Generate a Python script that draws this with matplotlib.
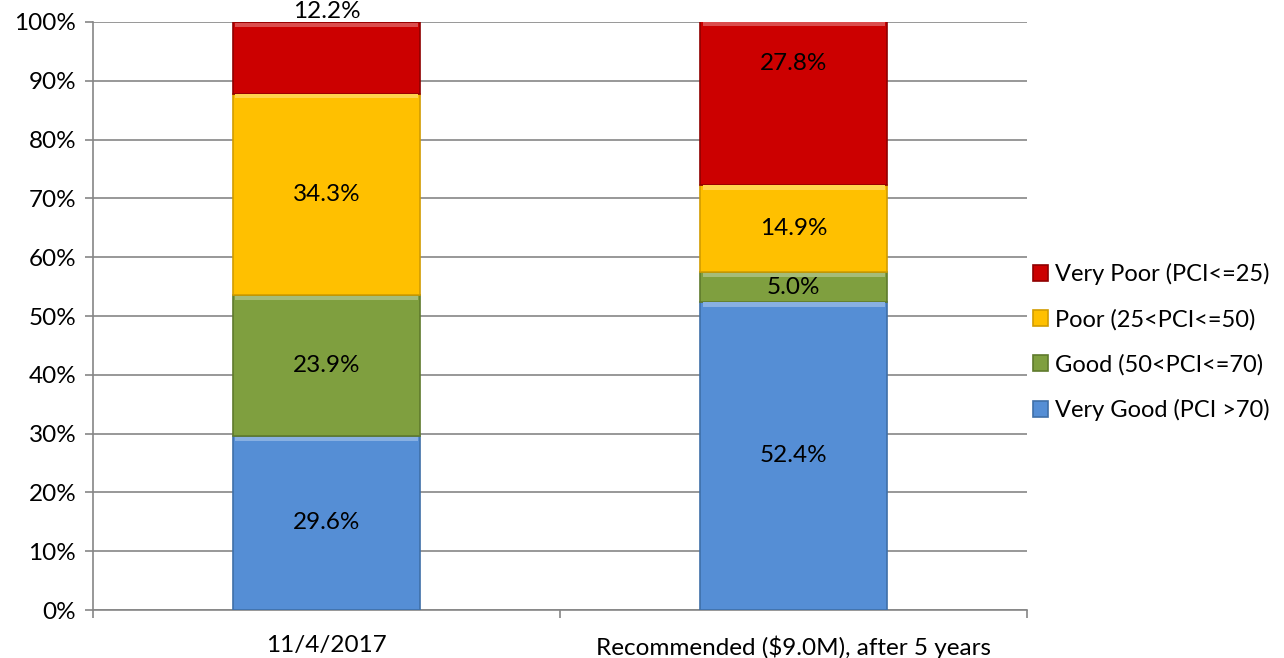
import numpy as np
import matplotlib.pyplot as plt
from matplotlib.ticker import FixedLocator
from matplotlib.colors import to_rgb

categories = ['11/4/2017', 'Recommended ($9.0M), after 5 years']
series_names = ['Very Good (PCI >70)', 'Good (50<PCI<=70)',
                'Poor (25<PCI<=50)', 'Very Poor (PCI<=25)']
very_good = [29.6, 52.4]
good = [23.9, 5.0]
poor = [34.3, 14.9]
very_poor = [12.2, 27.8]

colors = ['#558ed5', '#7f9f3f', '#ffc000', '#cc0000']
edges = ['#3f6fa8', '#5f7a2c', '#d29c00', '#8f0000']

# labels that were moved by hand in the original chart: (series, category) -> y
label_moves = {(3, 0): 101.7, (3, 1): 93.0}

plt.rcParams['font.family'] = ['Lato', 'DejaVu Sans']
fs = 17.5


def lighter(c, f=0.3):
    r, g, b = to_rgb(c)
    return (r + (1 - r) * f, g + (1 - g) * f, b + (1 - b) * f)


fig = plt.figure(figsize=(12.84, 6.58), dpi=100)
ax = fig.add_axes([0.0724, 0.0729, 0.7276, 0.8937])

x = np.arange(len(categories))
bottom = np.zeros(len(categories))
handles = []
series = [very_good, good, poor, very_poor]
for si, (vals, name, c, ec) in enumerate(zip(series, series_names, colors, edges)):
    vals = np.array(vals)
    bars = ax.bar(x, vals, 0.4, bottom=bottom, color=c, edgecolor=ec,
                  linewidth=1.2, label=name, zorder=3)
    handles.append(bars)
    # bevel highlight at the top of each segment
    ax.bar(x, np.full(len(x), 0.7), 0.4 - 0.01, bottom=bottom + vals - 0.8,
           color=lighter(c), linewidth=0, zorder=4)
    for ci, (xi, b, v) in enumerate(zip(x, bottom, vals)):
        yc = label_moves.get((si, ci), b + v / 2)
        ax.text(xi, yc, f'{v:.1f}%', ha='center', va='center', fontsize=fs,
                zorder=5, clip_on=False)
    bottom += vals

ax.set_xlim(-0.5, 1.5)
ax.set_ylim(0, 100)
ax.set_yticks(np.arange(0, 101, 10))
ax.set_yticklabels([f'{t}%' for t in range(0, 101, 10)], fontsize=fs)
ax.set_xticks(x)
ax.set_xticklabels(categories, fontsize=fs)
ax.tick_params(axis='x', length=0, pad=18)
ax.xaxis.set_minor_locator(FixedLocator([-0.5, 0.5, 1.5]))
ax.tick_params(axis='x', which='minor', length=6, color='#868686', width=1.2)
ax.tick_params(axis='y', length=6, color='#868686', width=1.2, pad=6)
ax.grid(axis='y', color='#868686', linewidth=1.2, zorder=0)
for s in ['top', 'right']:
    ax.spines[s].set_visible(False)
for s in ['left', 'bottom']:
    ax.spines[s].set_color('#868686')
    ax.spines[s].set_linewidth(1.2)

fig.legend(handles[::-1], series_names[::-1], loc='center left',
           bbox_to_anchor=(0.795, 0.48), frameon=False, fontsize=17,
           handlelength=0.65, handleheight=0.65, handletextpad=0.3,
           labelspacing=1.0, borderpad=0)

fig.savefig('out.png', dpi=100)
